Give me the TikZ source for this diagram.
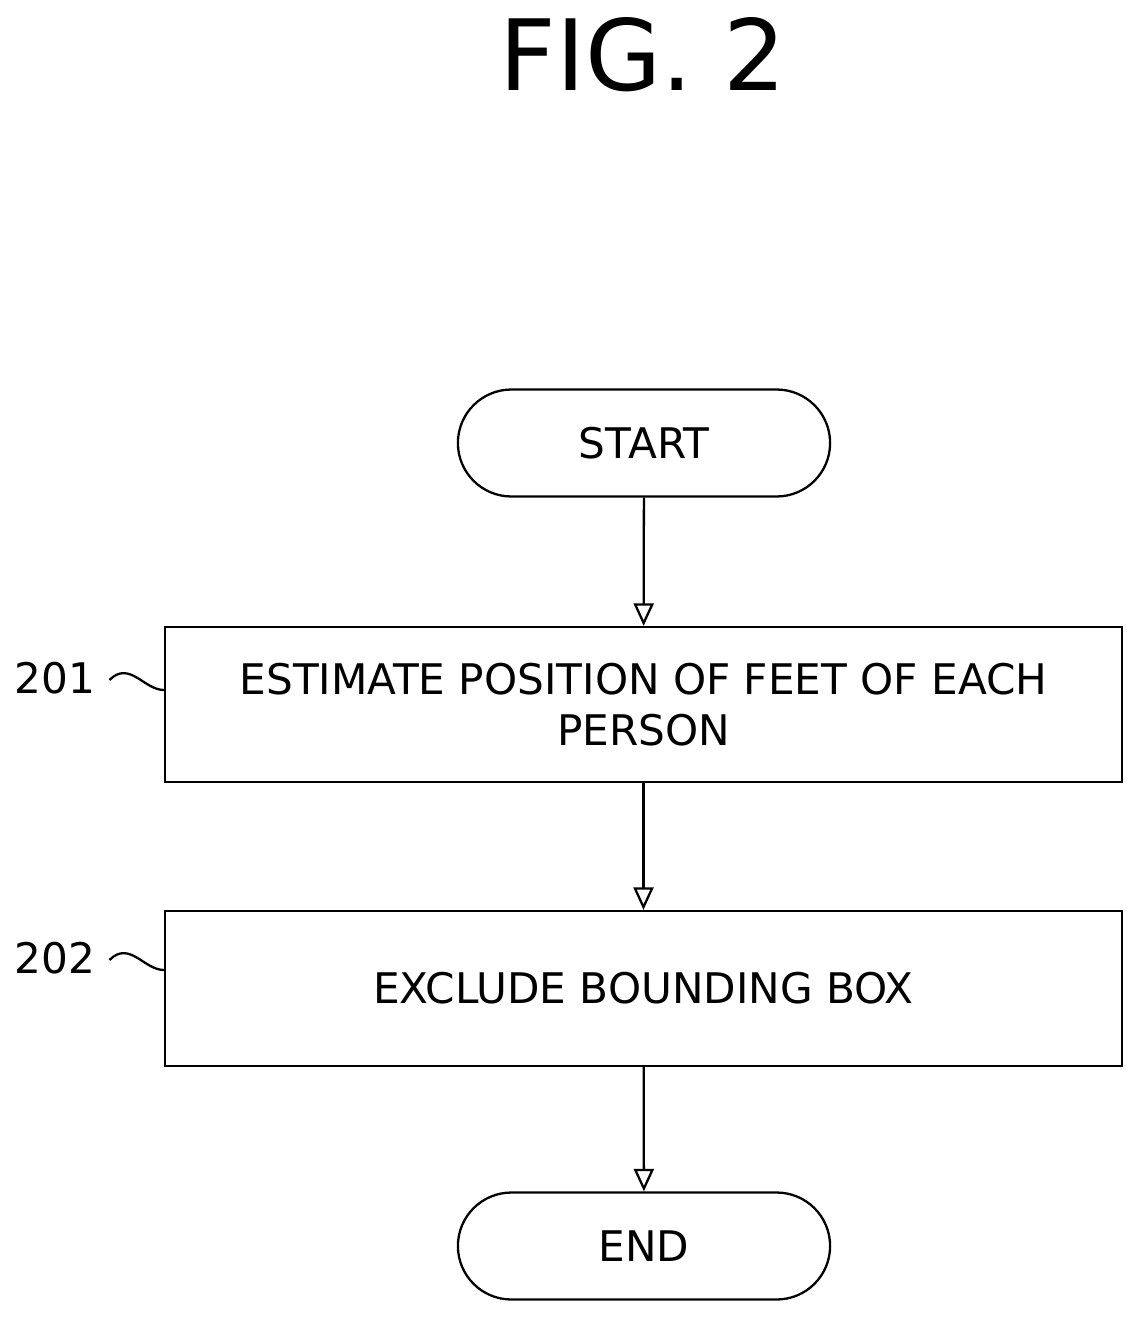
\documentclass[tikz,border=0pt]{standalone}
\usepackage{fontspec}
\setmainfont{DejaVu Sans}
\usetikzlibrary{arrows.meta,shapes.misc}
\begin{document}
\begin{tikzpicture}[x=0.02cm,y=-0.02cm,
  term/.style={draw, line width=1.3pt, rounded rectangle, minimum width=7.68cm, minimum height=2.14cm, font=\fontsize{24}{29}\selectfont},
  process/.style={draw, line width=1.3pt, minimum width=19.14cm, minimum height=3.1cm, align=center, font=\fontsize{24}{29}\selectfont},
  lab/.style={font=\fontsize{24}{29}\selectfont},
  flow/.style={->, line width=1.3pt, >={Triangle[open, length=0.45cm, width=0.4cm]}}]
\useasboundingbox (0,0) rectangle (1145,1325);
\node (title) at (643,55) {\fontsize{56}{62}\selectfont FIG.\ 2};
\node (start) at (644,443) [term] {START};
\node (B1) at (643.5,704.5) [process] {ESTIMATE POSITION OF FEET OF EACH\\PERSON};
\node (B2) at (643.5,988.5) [process] {EXCLUDE BOUNDING BOX};
\node (end) at (644,1246) [term] {END};
\node (L1) at (55,678) [lab] {201};
\node (L2) at (55,958) [lab] {202};
% Draw the flow arrows
\draw[flow] (start) -- (B1);
\draw[flow] (B1) -- (B2);
\draw[flow] (B2) -- (end);
% reference squiggles
\draw[line width=1.3pt] (L1.east) ++(8,2) coordinate (s1) .. controls +(20,-20) and +(-20,0) .. (B1.west |- 0,690);
\draw[line width=1.3pt] (L2.east) ++(8,2) coordinate (s2) .. controls +(20,-20) and +(-20,0) .. (B2.west |- 0,970);
\end{tikzpicture}
\end{document}
